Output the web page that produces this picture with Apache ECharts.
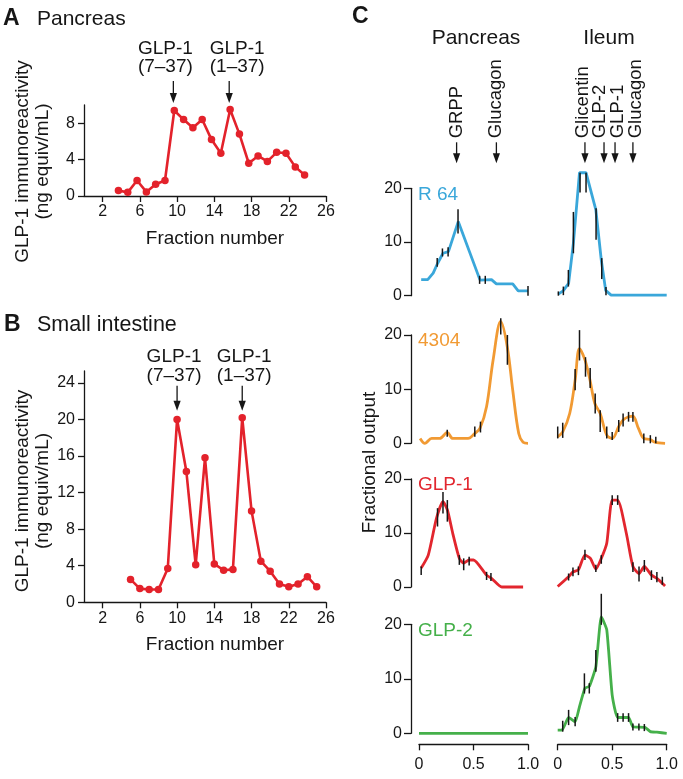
<!DOCTYPE html>
<html><head><meta charset="utf-8">
<script src="https://cdn.jsdelivr.net/npm/echarts@6.0.0/dist/echarts.min.js"></script>
<style>html,body{margin:0;padding:0;background:#fff}#chart{width:683px;height:779px}</style>
</head><body><div id="chart"></div>
<script>
// ---------- Panel A : Pancreas ----------
const aFractions = [3.7,4.7,5.7,6.7,7.7,8.7,9.7,10.7,11.7,12.7,13.7,14.7,15.7,16.7,17.7,18.7,19.7,20.7,21.7,22.7,23.7];
const aValues    = [0.6,0.4,1.7,0.45,1.3,1.7,9.4,8.4,7.5,8.4,6.2,4.7,9.5,6.8,3.6,4.4,3.8,4.8,4.7,3.2,2.3];
const aArrowX    = [9.6, 15.6];
const aArrowText = ['GLP-1\n(7–37)', 'GLP-1\n(1–37)'];
// ---------- Panel B : Small intestine ----------
const bFractions = [5,6,7,8,9,10,11,12,13,14,15,16,17,18,19,20,21,22,23,24,25];
const bValues    = [2.5,1.5,1.4,1.4,3.7,20.0,14.3,4.1,15.8,4.2,3.5,3.6,20.2,10.0,4.5,3.4,2.0,1.7,2.0,2.8,1.7];
const bArrowX    = [10, 17];
const bArrowText = ['GLP-1\n(7–37)', 'GLP-1\n(1–37)'];
// ---------- tick labels ----------
const fractionTicks = [2,6,10,14,18,22,26];
const aYTicks = [0,4,8];
const bYTicks = [0,4,8,12,16,20,24];
const cYTicks = [0,10,20];
const cXTicks = [0,0.5,1];
// ---------- Panel C ----------
const cColumns = ['Pancreas','Ileum'];
const cRowNames = ['R 64','4304','GLP-1','GLP-2'];
const cPancArrowX = [0.345, 0.71];
const cPancArrowText = ['GRPP','Glucagon'];
const cIleumArrowX = [0.25, 0.425, 0.526, 0.69];
const cIleumArrowText = ['Glicentin','GLP-2','GLP-1','Glucagon'];

const r64Panc = [[0.02,3],[0.08,3],[0.13,4.2],[0.17,6.0],[0.22,7.9],[0.27,8.2],[0.36,13.8],[0.56,2.9],[0.665,3],[0.71,2.2],[0.86,2.2],[0.91,0.9],[1.0,0.9]];
const r64PancErr = [[0.167,5.4,7.0],[0.215,7.3,8.8],[0.267,7.3,9.0],[0.358,11.6,16.1],[0.556,2.2,3.7],[0.608,2.2,3.7],[1.0,0,1.8]];
const r64Ileum = [[0.005,0.3],[0.05,0.9],[0.1,2.3],[0.144,9.8],[0.2,22.9],[0.26,22.9],[0.35,16],[0.4,6.6],[0.44,1.0],[0.49,0.1],[1.0,0.1]];
const r64IleumErr = [[0.006,0,0.8],[0.052,0.1,1.7],[0.098,1.7,4.8],[0.144,7.9,15.6],[0.205,19.2,22.9],[0.26,19.2,22.9],[0.352,10.4,16.3],[0.404,3.1,7.0],[0.443,0.1,1.6]];

const o4304Panc = [[0.01,0.9],[0.055,0],[0.116,0.9],[0.19,0.9],[0.26,2.0],[0.31,0.9],[0.45,0.9],[0.51,1.8],[0.56,2.8],[0.62,6.8],[0.68,15.4],[0.75,22.5],[0.81,17.8],[0.86,9.8],[0.915,1.8],[0.955,0.2],[1.0,0]];
const o4304PancErr = [[0.259,1.2,2.5],[0.512,1.2,3.1],[0.564,2.0,4.0],[0.75,20.1,23.1],[0.811,14.5,20.0]];
const o4304Ileum = [[0,1.2],[0.046,2.1],[0.11,5.5],[0.16,11.7],[0.2,17.5],[0.25,15.4],[0.296,11.7],[0.34,7.4],[0.39,5.5],[0.45,1.5],[0.5,0.9],[0.56,3.1],[0.6,4.3],[0.65,4.9],[0.69,5.0],[0.74,2.8],[0.79,0.9],[0.85,0.7],[0.89,0.2],[0.985,0]];
const o4304IleumErr = [[0,0.9,3.1],[0.046,1.0,3.8],[0.16,9.8,13.7],[0.2,15.3,20.9],[0.255,12.3,15.9],[0.298,10.2,13.9],[0.344,5.5,9.2],[0.39,2.1,6.1],[0.45,0.9,3.1],[0.5,0.6,2.1],[0.56,2.1,4.3],[0.6,3.1,5.5],[0.65,4.0,5.8],[0.69,4.0,5.8],[0.79,0,1.8],[0.85,0,1.5],[0.9,0,1.2]];

const glp1Panc = [[0.02,3.5],[0.085,5.9],[0.16,12.7],[0.22,15.8],[0.26,14.3],[0.31,9.9],[0.37,5.3],[0.41,4.4],[0.46,5.0],[0.5,5.0],[0.62,2.2],[0.665,1.6],[0.76,0],[0.955,0]];
const glp1PancErr = [[0.02,2.2,3.8],[0.17,11.2,14.6],[0.22,13.6,17.6],[0.26,12.1,16.1],[0.37,4.1,5.9],[0.41,3.1,5.3],[0.46,4.0,5.6],[0.62,1.3,2.8],[0.66,1.1,2.6]];
const glp1Ileum = [[0,0.1],[0.1,1.9],[0.14,2.8],[0.19,3.2],[0.25,5.9],[0.3,5.3],[0.35,3.3],[0.4,5.3],[0.45,8.1],[0.5,16.1],[0.55,16.1],[0.63,9.9],[0.69,3.8],[0.746,2.5],[0.795,3.8],[0.86,2.2],[0.91,1.6],[0.985,0.2]];
const glp1IleumErr = [[0.1,1.2,2.5],[0.14,2.0,3.6],[0.19,2.2,3.8],[0.25,5.0,6.9],[0.35,2.8,4.1],[0.4,4.3,5.9],[0.5,15.2,17.0],[0.55,15.2,17.0],[0.69,2.8,4.6],[0.746,1.0,3.8],[0.795,2.8,5.0],[0.86,1.3,3.1],[0.91,0.9,2.8],[0.96,0.4,1.9]];

const glp2Panc = [[0,0],[1,0]];
const glp2PancErr = [];
const glp2Ileum = [[0,0.6],[0.04,0.6],[0.1,2.9],[0.16,2.1],[0.2,4.9],[0.25,8.3],[0.29,8.6],[0.35,12.2],[0.4,21.4],[0.45,19.0],[0.5,7.0],[0.55,2.9],[0.65,2.9],[0.69,1.2],[0.8,1.1],[0.85,0.3],[0.91,0.2],[1.0,0]];
const glp2IleumErr = [[0.046,0.3,2.3],[0.1,1.5,4.3],[0.16,1.3,3.0],[0.245,7.3,11.0],[0.29,7.3,9.2],[0.35,11.3,15.3],[0.4,19.9,25.6],[0.55,2.1,3.7],[0.6,2.1,3.7],[0.65,2.1,3.7],[0.69,0.5,1.8],[0.745,0.5,1.8],[0.795,0.4,1.7]];

const cLines = [[r64Panc, r64Ileum],[o4304Panc, o4304Ileum],[glp1Panc, glp1Ileum],[glp2Panc, glp2Ileum]];
const cErrs  = [[r64PancErr, r64IleumErr],[o4304PancErr, o4304IleumErr],[glp1PancErr, glp1IleumErr],[glp2PancErr, glp2IleumErr]];

// ---------- styles ----------
const FONT = '"Liberation Sans", Arial, Helvetica, sans-serif';
const INK = '#161616';
const RED = '#e3222b';
const cColors = ['#3aa7da', '#f19a33', '#e2262e', '#45b04a'];
const cSmooth = [0, 0.35, 0.2, 0.15];
const axisLine = {show: true, onZero: false, lineStyle: {color: INK, width: 1.3}};
const lbl = (margin, values, extra) => Object.assign({show: true, margin, fontSize: 16, color: INK, fontFamily: FONT, customValues: values}, extra || {});
const tck = (values) => ({show: true, length: 6, inside: false, lineStyle: {color: INK, width: 1.3}, customValues: values});

const grids = [], xAxes = [], yAxes = [], series = [];

// Panel A grid (0)
grids.push({left: 84, top: 105, width: 242, height: 91});
// Panel B grid (1)
grids.push({left: 84, top: 371, width: 242, height: 231.3});
[0, 1].forEach(g => {
  xAxes.push({gridIndex: g, type: 'value', min: 0, max: 26, axisLine, axisTick: tck(fractionTicks),
    axisLabel: lbl(8, fractionTicks), splitLine: {show: false},
    name: 'Fraction number', nameLocation: 'middle', nameGap: 33,
    nameTextStyle: {fontSize: 19, color: INK, fontFamily: FONT, padding: [0, 0, 0, 20]}});
  yAxes.push({gridIndex: g, type: 'value', min: 0, max: g === 0 ? 10 : 25.3, axisLine,
    axisTick: tck(g === 0 ? aYTicks : bYTicks), axisLabel: lbl(9, g === 0 ? aYTicks : bYTicks), splitLine: {show: false}});
});
[[aFractions, aValues], [bFractions, bValues]].forEach(([xs, ys], g) => {
  series.push({type: 'line', xAxisIndex: g, yAxisIndex: g, data: xs.map((x, i) => [x, ys[i]]),
    symbol: 'circle', symbolSize: 7.5, showSymbol: true, lineStyle: {color: RED, width: 2.6},
    itemStyle: {color: RED}, z: 3, silent: true});
});

// Panel C grids (2..9)
const cLeft = [419, 557.7], cWidth = 109;
const cTop = [188.3, 335, 479, 624.3], cHeight = [107.4, 108.3, 108, 109];
const errRender = (params, api) => {
  const x = api.value(0), lo = api.value(1), hi = api.value(2);
  const p1 = api.coord([x, lo]), p2 = api.coord([x, hi]);
  return {type: 'line', shape: {x1: p1[0], y1: p1[1], x2: p2[0], y2: p2[1]}, style: {stroke: INK, lineWidth: 1.5}};
};
for (let r = 0; r < 4; r++) {
  for (let c = 0; c < 2; c++) {
    const g = grids.length;
    grids.push({left: cLeft[c], top: cTop[r], width: cWidth, height: cHeight[r]});
    const showX = r === 3;
    xAxes.push({gridIndex: g, type: 'value', min: 0, max: 1, show: showX, offset: 11, axisLine,
      axisTick: tck(cXTicks), axisLabel: lbl(12, cXTicks, {formatter: v => v === 1 ? '1.0' : String(v)}),
      splitLine: {show: false}});
    yAxes.push({gridIndex: g, type: 'value', min: 0, max: 20, show: c === 0, offset: 8, axisLine,
      axisTick: Object.assign(tck(cYTicks), {length: 7}), axisLabel: lbl(9, cYTicks), splitLine: {show: false}});
    series.push({type: 'line', xAxisIndex: g, yAxisIndex: g, data: cLines[r][c], showSymbol: false,
      smooth: cSmooth[r], clip: false, lineStyle: {color: cColors[r], width: 2.8}, z: 2, silent: true});
    if (cErrs[r][c].length) {
      series.push({type: 'custom', xAxisIndex: g, yAxisIndex: g, data: cErrs[r][c], renderItem: errRender,
        encode: {x: 0, y: [1, 2]}, clip: false, z: 4, silent: true});
    }
  }
}

const chart = echarts.init(document.getElementById('chart'));
chart.setOption({animation: false, backgroundColor: '#fff', grid: grids, xAxis: xAxes, yAxis: yAxes, series});

// ---------- annotations ----------
const px = (ax, v) => chart.convertToPixel({xAxisIndex: ax}, v);
const py = (ax, v) => chart.convertToPixel({yAxisIndex: ax}, v);
const T = (x, y, text, o) => {
  o = o || {};
  return {type: 'text', x, y, rotation: o.rot || 0, silent: true, z: 10,
    style: {text, fontSize: o.size || 19, fontWeight: o.weight || 'normal', fontFamily: FONT,
      fill: o.color || INK, align: o.align || 'center', verticalAlign: 'middle', lineHeight: o.lh || undefined}};
};
const arrow = (x, yTail, yTip) => ({type: 'group', silent: true, z: 10, children: [
  {type: 'line', shape: {x1: x, y1: yTail, x2: x, y2: yTip - 8}, style: {stroke: INK, lineWidth: 1.3}},
  {type: 'polygon', shape: {points: [[x - 3.6, yTip - 10], [x + 3.6, yTip - 10], [x, yTip]]}, style: {fill: INK}}
]});

const gfx = [];
// panel titles
gfx.push(T(3, 19, 'A', {size: 23, weight: 'bold', align: 'left'}));
gfx.push(T(37, 19, 'Pancreas', {size: 21, align: 'left'}));
gfx.push(T(4, 325, 'B', {size: 23, weight: 'bold', align: 'left'}));
gfx.push(T(37, 325, 'Small intestine', {size: 21.5, align: 'left'}));
gfx.push(T(352, 16.5, 'C', {size: 23, weight: 'bold', align: 'left'}));
// y axis names A, B
gfx.push(T(33, 161.5, 'GLP-1 immunoreactivity\n(ng equiv/mL)', {rot: Math.PI / 2, lh: 20}));
gfx.push(T(33, 491, 'GLP-1 immunoreactivity\n(ng equiv/mL)', {rot: Math.PI / 2, lh: 20}));
// arrows A
const aTop = py(0, 10);
const aShift = [-8, 8];
aArrowX.forEach((v, i) => {
  const x = px(0, v), tip = aTop - 2;
  gfx.push(arrow(x, tip - 22, tip));
  gfx.push(T(x + aShift[i], tip - 45, aArrowText[i], {lh: 18.5}));
});
// arrows B
const bShift = [-3, 2];
bArrowX.forEach((v, i) => {
  const x = px(1, v), tip = py(1, 20.2) - 7;
  gfx.push(arrow(x, tip - 25, tip));
  gfx.push(T(x + bShift[i], tip - 44.5, bArrowText[i], {lh: 19}));
});
// panel C headers and arrows
const cHeadX = [476, 609];
cColumns.forEach((t, c) => gfx.push(T(cHeadX[c], 38.5, t, {size: 21})));
const cTip = cTop[0] - 25;
const cTextShift = [[0, 0], [-2, -4, 2.5, 2.5]];
[[cPancArrowX, cPancArrowText, 2], [cIleumArrowX, cIleumArrowText, 3]].forEach(([xs, texts, ax], c) => {
  xs.forEach((v, i) => {
    const x = px(ax, v);
    gfx.push(arrow(x, cTip - 21, cTip));
    gfx.push(T(x + cTextShift[c][i], cTip - 25, texts[i], {rot: Math.PI / 2, align: 'left', size: 18.5}));
  });
});
// row names
cRowNames.forEach((t, r) => gfx.push(T(cLeft[0] - 1, cTop[r] + 6, t, {color: cColors[r], align: 'left'})));
gfx.push(T(370, 462.5, 'Fractional output', {rot: Math.PI / 2}));

chart.setOption({graphic: {elements: gfx}});
</script>
</body></html>
